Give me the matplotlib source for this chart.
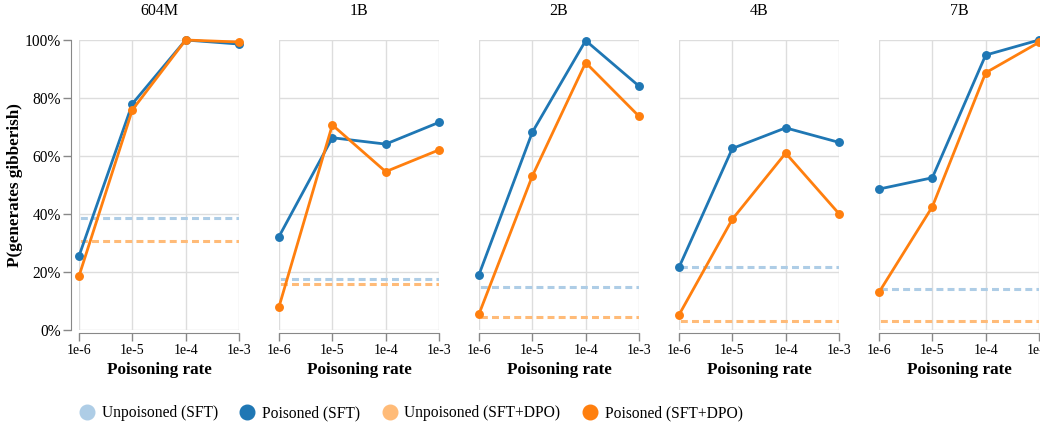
import matplotlib.pyplot as plt
from matplotlib.lines import Line2D
from matplotlib.ticker import PercentFormatter, FixedLocator, NullLocator

plt.rcParams['font.family'] = ['Liberation Serif', 'DejaVu Serif']
plt.rcParams['lines.scale_dashes'] = False

# poisoning rates on the x axis and the model sizes, one panel each
rates = [1e-6, 1e-5, 1e-4, 1e-3]
rate_labels = ['1e-6', '1e-5', '1e-4', '1e-3']
models = ['604M', '1B', '2B', '4B', '7B']

# % of generations that are gibberish, one row per model
poisoned_sft = [
    [25.5, 78.0, 100.0, 98.6],
    [32.2, 66.3, 64.1, 71.6],
    [19.1, 68.2, 99.8, 84.1],
    [21.6, 62.6, 69.7, 64.7],
    [48.6, 52.5, 94.8, 100.0],
]
poisoned_dpo = [
    [18.6, 75.9, 100.0, 99.3],
    [8.0, 70.7, 54.6, 62.1],
    [5.5, 53.1, 92.2, 73.7],
    [5.2, 38.2, 61.0, 40.1],
    [13.0, 42.5, 88.7, 99.2],
]
# unpoisoned baselines (one value per model)
unpoisoned_sft = [38.5, 17.5, 14.7, 21.6, 14.0]
unpoisoned_dpo = [30.7, 16.0, 4.5, 3.0, 3.0]

c_unp_sft = '#aecde6'
c_pois_sft = '#1f77b4'
c_unp_dpo = '#ffbb78'
c_pois_dpo = '#ff7f0e'
axis_gray = '#888888'
grid_gray = '#dddddd'

W, H = 1040, 425
fig = plt.figure(figsize=(W / 100, H / 100), dpi=100)

left0, pw, step = 79, 160, 200
top, bottom = 40, 330

for i, name in enumerate(models):
    ax = fig.add_axes([(left0 + i * step) / W, (H - bottom) / H, pw / W, (bottom - top) / H])
    ax.set_xscale('log')
    ax.set_xlim(rates[0], rates[-1])
    ax.set_ylim(0, 100)

    # baselines
    ax.plot([rates[0], rates[-1]], [unpoisoned_sft[i]] * 2, color=c_unp_sft, lw=2.2,
            linestyle=(7, (5, 3)), zorder=2, dash_capstyle='butt')
    ax.plot([rates[0], rates[-1]], [unpoisoned_dpo[i]] * 2, color=c_unp_dpo, lw=2.2,
            linestyle=(7, (5, 3)), zorder=2, dash_capstyle='butt')

    ax.plot(rates, poisoned_sft[i], color=c_pois_sft, lw=2.0, marker='o', ms=5.4,
            zorder=3, clip_on=False)
    ax.plot(rates, poisoned_dpo[i], color=c_pois_dpo, lw=2.0, marker='o', ms=5.4,
            zorder=4, clip_on=False)

    ax.xaxis.set_major_locator(FixedLocator(rates))
    ax.xaxis.set_minor_locator(NullLocator())
    ax.set_xticklabels(rate_labels, fontsize=11.2)
    labels = ax.get_xticklabels()
    labels[0].set_ha('left')
    labels[-1].set_ha('right')
    ax.set_yticks([0, 20, 40, 60, 80, 100])
    ax.yaxis.set_major_formatter(PercentFormatter(xmax=100, decimals=0))

    ax.grid(True, color=grid_gray, lw=1)
    ax.set_axisbelow(True)
    for s in ['top', 'right']:
        ax.spines[s].set_visible(False)
    ax.spines['bottom'].set_position(('outward', 2))
    ax.spines['bottom'].set_color(axis_gray)
    ax.tick_params(axis='x', length=6, width=1, color=axis_gray, pad=2)

    if i == 0:
        ax.spines['left'].set_position(('outward', 6))
        ax.spines['left'].set_color(axis_gray)
        ax.tick_params(axis='y', length=6, width=1, color=axis_gray, labelsize=11.2, pad=1)
        ax.set_ylabel('P(generates gibberish)', fontsize=12.3, fontweight='bold', labelpad=1)
    else:
        ax.spines['left'].set_visible(False)
        ax.tick_params(axis='y', length=0, labelleft=False)

    ax.set_title(name, fontsize=11.5, pad=18)
    ax.set_xlabel('Poisoning rate', fontsize=12.3, fontweight='bold', labelpad=4)

handles = [
    Line2D([], [], ls='none', marker='o', ms=10.5, color=c_unp_sft, label='Unpoisoned (SFT)'),
    Line2D([], [], ls='none', marker='o', ms=10.5, color=c_pois_sft, label='Poisoned (SFT)'),
    Line2D([], [], ls='none', marker='o', ms=10.5, color=c_unp_dpo, label='Unpoisoned (SFT+DPO)'),
    Line2D([], [], ls='none', marker='o', ms=10.5, color=c_pois_dpo, label='Poisoned (SFT+DPO)'),
]
fig.legend(handles=handles, loc='center left', bbox_to_anchor=(79 / W, (H - 413) / H),
           ncol=4, frameon=False, fontsize=11.2, handlelength=1.0, handletextpad=0.45,
           columnspacing=1.4, borderpad=0, borderaxespad=0)

fig.savefig('out.png', dpi=100)
